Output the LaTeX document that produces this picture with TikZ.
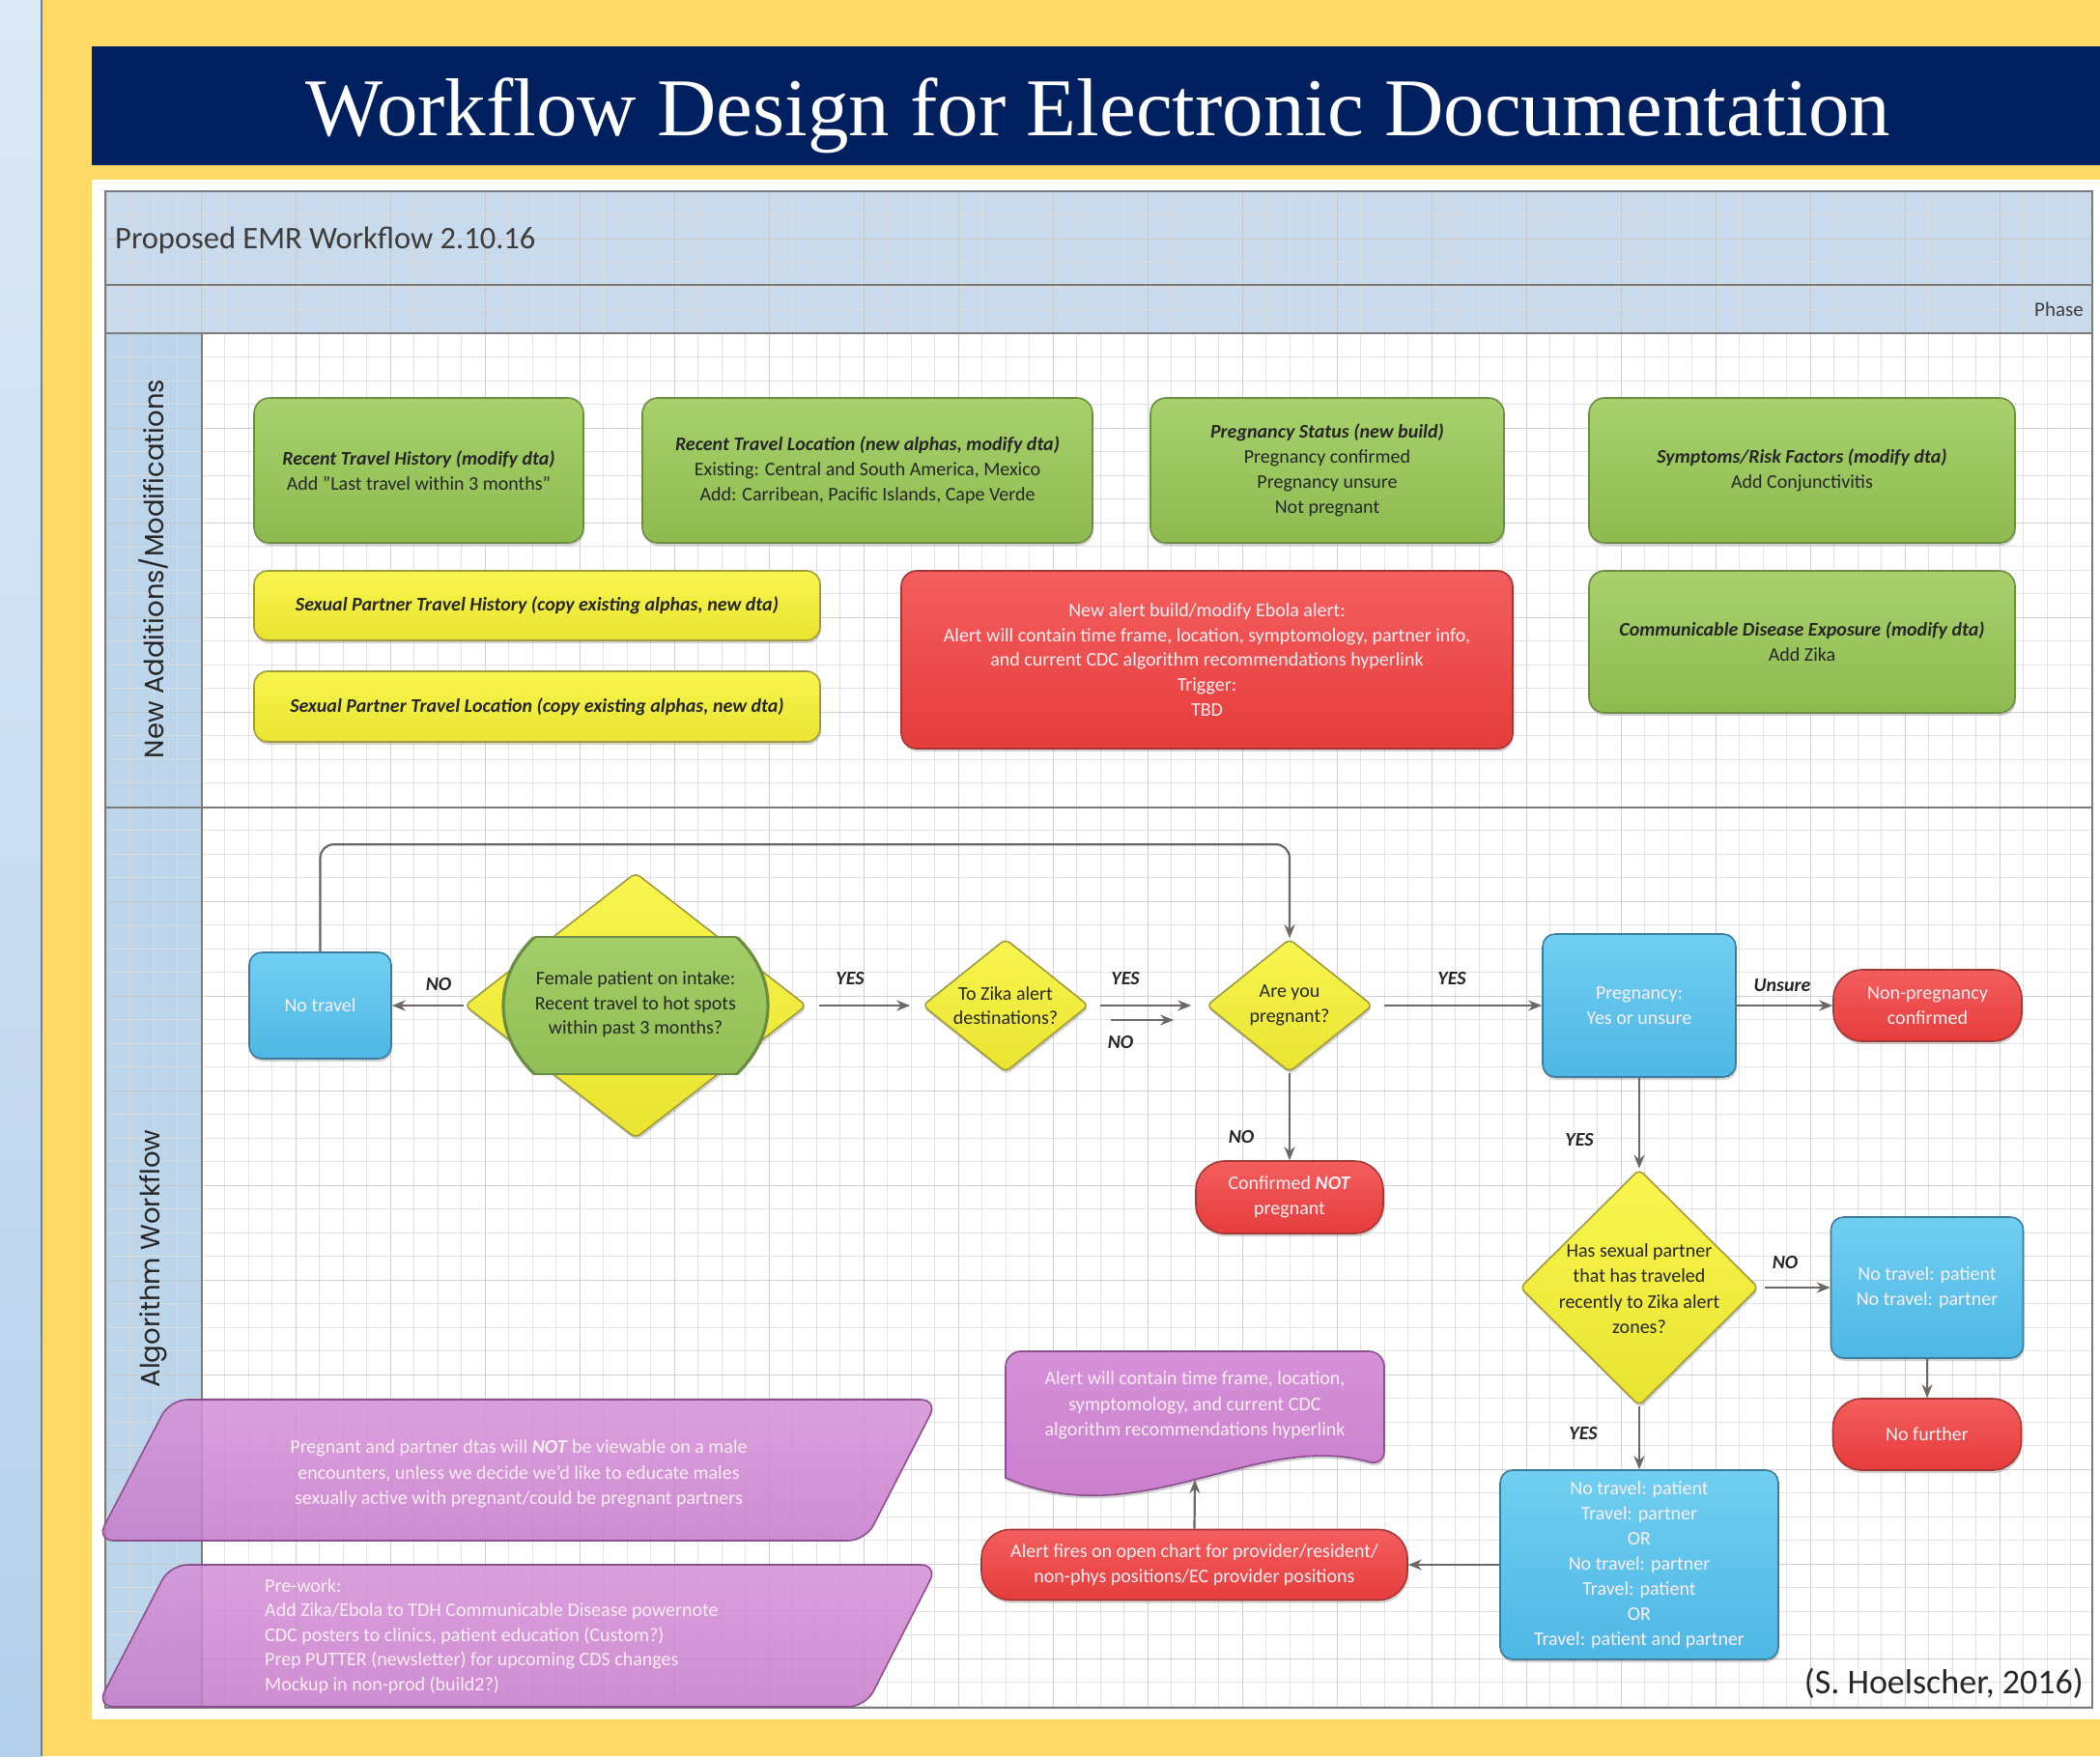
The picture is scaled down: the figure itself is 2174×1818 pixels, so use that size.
\documentclass[tikz,border=0pt]{standalone}
\usepackage{fontspec}
\setmainfont{Carlito}
\newfontfamily\titlefont{Liberation Serif}
\newfontfamily\lanefont{Poppins}
\usetikzlibrary{shapes.geometric,shadows,arrows.meta}

\definecolor{pagegold}{HTML}{FFD966}
\definecolor{navy}{HTML}{002060}
\definecolor{stripA}{HTML}{DDE9F6}
\definecolor{stripB}{HTML}{B5D0EB}
\definecolor{stripline}{HTML}{5B84B8}
\definecolor{bandblue}{HTML}{C8DAEB}
\definecolor{colblue}{HTML}{BDD5EB}
\definecolor{framegray}{HTML}{7A7A7A}
\definecolor{gridminor}{HTML}{DDDDDD}
\definecolor{gridmajor}{HTML}{C6C6C6}
\definecolor{greenA}{HTML}{A8D16C}
\definecolor{greenB}{HTML}{8DBB50}
\definecolor{greenE}{HTML}{6C8C44}
\definecolor{yelA}{HTML}{F8F54E}
\definecolor{yelB}{HTML}{E9E430}
\definecolor{yelE}{HTML}{A09B3C}
\definecolor{redA}{HTML}{F45E5E}
\definecolor{redB}{HTML}{E63C3C}
\definecolor{redE}{HTML}{A63636}
\definecolor{bluA}{HTML}{70CFF1}
\definecolor{bluB}{HTML}{4EB7E5}
\definecolor{bluE}{HTML}{3B7C9C}
\definecolor{purA}{HTML}{D690D8}
\definecolor{purB}{HTML}{C77BCB}
\definecolor{purE}{HTML}{8B4F8E}
\definecolor{ink}{HTML}{262626}
\definecolor{lightink}{HTML}{FBEFF3}
\definecolor{arrowgray}{HTML}{6C6666}

\tikzset{
  shapebase/.style={draw, line width=1.6pt, align=center, inner sep=0pt,
    font=\fontsize{20}{26}\selectfont,
    drop shadow={shadow xshift=1pt, shadow yshift=-3pt, opacity=0.35}},
  greenbox/.style={shapebase, rounded corners=16pt, draw=greenE,
    top color=greenA, bottom color=greenB, text=ink},
  yellowbox/.style={shapebase, rounded corners=14pt, draw=yelE,
    top color=yelA, bottom color=yelB, text=ink},
  redbox/.style={shapebase, rounded corners=16pt, draw=redE,
    top color=redA, bottom color=redB, text=lightink},
  redpill/.style={redbox, rounded corners=30pt},
  bluebox/.style={shapebase, rounded corners=13pt, draw=bluE,
    top color=bluA, bottom color=bluB, text=lightink},
  yeldia/.style={shapebase, shape=diamond, rounded corners=6pt, draw=yelE,
    top color=yelA, bottom color=yelB},
  purplefill/.style={draw=purE, line width=1.6pt, top color=purA, bottom color=purB,
    drop shadow={shadow xshift=1pt, shadow yshift=-3pt, opacity=0.35}},
  purplenote/.style={draw=purE, line width=1.6pt, top color=purA, bottom color=purB,
    fill opacity=0.86},
  dtext/.style={align=center, inner sep=0pt, text=ink, font=\fontsize{20}{25.5}\selectfont},
  ltext/.style={align=center, inner sep=0pt, text=lightink, font=\fontsize{20}{26.5}\selectfont},
  lbl/.style={inner sep=0pt, text=ink, font=\fontsize{20}{20}\selectfont\bfseries\itshape},
  arr/.style={draw=arrowgray, line width=2.2pt, -{Stealth[length=14pt,width=11pt]}},
  framepen/.style={draw=framegray, line width=2.6pt},
  lanelabel/.style={rotate=90, inner sep=0pt, text=ink, font=\lanefont\fontsize{27.5}{27.5}\selectfont}
}

\begin{document}
\begin{tikzpicture}[x=1pt,y=-1pt]
\useasboundingbox (0,0) rectangle (2174,1818);

% page background and side strip
\fill[pagegold] (0,0) rectangle (2174,1818);
\shade[top color=stripA, bottom color=stripB] (0,0) rectangle (43,1818);
\draw[draw=stripline, line width=2pt] (43,0) -- (43,1818);

% title banner
\fill[navy] (95,48) rectangle (2174,171);
\node[anchor=base, inner sep=0pt, text=white, font=\titlefont\fontsize{85}{85}\selectfont]
  (title) at (1137,140) {Workflow Design for Electronic Documentation};

% sheet, header bands and lane label column
\fill[white] (95,186) rectangle (2174,1780);
\fill[bandblue] (109,198) rectangle (2166,345);
\fill[colblue] (109,345) rectangle (209,1768);

% background grid
\foreach \k in {-4,...,79}{
  \pgfmathtruncatemacro\gm{mod(\k+400,4)}
  \ifnum\gm=0 \def\gc{gridmajor}\else\def\gc{gridminor}\fi
  \draw[draw=\gc, line width=1pt, opacity=0.8] ({208+24.5*\k},198) -- ({208+24.5*\k},1768);
}
\foreach \k in {-25,...,38}{
  \pgfmathtruncatemacro\gm{mod(\k+400,4)}
  \ifnum\gm=0 \def\gc{gridmajor}\else\def\gc{gridminor}\fi
  \draw[draw=\gc, line width=1pt, opacity=0.8] (109,{835+24.5*\k}) -- (2166,{835+24.5*\k});
}

% swimlane frame
\draw[framepen] (109,198) rectangle (2166,1768);
\draw[framepen] (109,295) -- (2166,295);
\draw[framepen] (109,345) -- (2166,345);
\draw[framepen] (109,836) -- (2166,836);
\draw[framepen] (209,345) -- (209,1768);

\node[anchor=base west, inner sep=0pt, text=ink!90, font=\fontsize{32.5}{32.5}\selectfont]
  (sheettitle) at (119,257) {Proposed EMR Workflow 2.10.16};
\node[anchor=base east, inner sep=0pt, text=ink!90, font=\fontsize{21}{21}\selectfont]
  (phase) at (2157,327) {Phase};
\node[lanelabel] (laneA) at (159,589) {New Additions/Modifications};
\node[lanelabel] (laneB) at (159,1303) {Algorithm Workflow};

% ---- lane 1: additions and modifications ----
\node[greenbox, minimum width=341pt, minimum height=150pt] (rth) at (433.5,487)
  {\textbf{\textit{Recent Travel History (modify dta)}}\\Add "Last travel within 3 months"};
\node[greenbox, minimum width=466pt, minimum height=150pt] (rtl) at (898,487)
  {\textbf{\textit{Recent Travel Location (new alphas, modify dta)}}\\Existing: Central and South America, Mexico\\Add: Carribean, Pacific Islands, Cape Verde};
\node[greenbox, minimum width=366pt, minimum height=150pt] (pst) at (1374,487)
  {\textbf{\textit{Pregnancy Status (new build)}}\\Pregnancy confirmed\\Pregnancy unsure\\Not pregnant};
\node[greenbox, minimum width=441pt, minimum height=150pt] (srf) at (1865.5,487)
  {\textbf{\textit{Symptoms/Risk Factors (modify dta)}}\\Add Conjunctivitis};
\node[yellowbox, minimum width=586pt, minimum height=72pt] (sph) at (556,627)
  {\textbf{\textit{Sexual Partner Travel History (copy existing alphas, new dta)}}};
\node[yellowbox, minimum width=586pt, minimum height=73pt] (spl) at (556,731.5)
  {\textbf{\textit{Sexual Partner Travel Location (copy existing alphas, new dta)}}};
\node[redbox, minimum width=633pt, minimum height=184pt, font=\fontsize{20}{25.8}\selectfont] (ebola) at (1249.5,683)
  {New alert build/modify Ebola alert:\\Alert will contain time frame, location, symptomology, partner info,\\and current CDC algorithm recommendations hyperlink\\Trigger:\\TBD};
\node[greenbox, minimum width=441pt, minimum height=147pt] (cde) at (1865.5,664.5)
  {\textbf{\textit{Communicable Disease Exposure (modify dta)}}\\Add Zika};

% ---- lane 2: algorithm workflow ----
\node[bluebox, minimum width=147pt, minimum height=110pt] (notravel) at (331.5,1041) {No travel};

\node[yeldia, minimum width=354pt, minimum height=275pt] (q1) at (658,1041) {};
\begin{scope}
  \clip (500,970) rectangle (820,1112);
  \fill[top color=greenA, bottom color=greenB] (658,1041) ellipse [x radius=137, y radius=110];
  \draw[draw=greenE, line width=3.2pt] (658,1041) ellipse [x radius=137, y radius=110];
\end{scope}
\draw[draw=greenE, line width=1.6pt] (553.4,970) -- (762.6,970) (553.4,1112) -- (762.6,1112);
\node[dtext] (q1t) at (658,1040) {Female patient on intake:\\Recent travel to hot spots\\within past 3 months?};

\node[yeldia, minimum width=172pt, minimum height=138pt] (q2) at (1041,1041) {};
\node[dtext] (q2t) at (1041,1041) {To Zika alert\\destinations?};
\node[yeldia, minimum width=172pt, minimum height=138pt] (q3) at (1335,1041) {};
\node[dtext] (q3t) at (1335,1041) {Are you\\pregnant?};

\node[bluebox, minimum width=200pt, minimum height=148pt, font=\fontsize{20}{26}\selectfont] (preg) at (1697,1041) {Pregnancy:\\Yes or unsure};
\node[redpill, minimum width=195pt, minimum height=74pt] (nonpreg) at (1995.5,1041) {Non-pregnancy\\confirmed};
\node[redpill, minimum width=194pt, minimum height=75pt] (notpreg) at (1335,1239.5) {Confirmed \textbf{\textit{NOT}}\\pregnant};

\node[yeldia, minimum width=247pt, minimum height=245pt] (q4) at (1697,1333) {};
\node[dtext, font=\fontsize{20}{26.5}\selectfont] (q4t) at (1697,1334) {Has sexual partner\\that has traveled\\recently to Zika alert\\zones?};

\node[bluebox, minimum width=199pt, minimum height=146pt] (notravel2) at (1995,1333) {No travel: patient\\No travel: partner};
\node[redpill, minimum width=195pt, minimum height=74pt] (nofurther) at (1995,1485) {No further};
\node[bluebox, minimum width=288pt, minimum height=196pt, font=\fontsize{20}{26}\selectfont] (combos) at (1697,1620)
  {No travel: patient\\Travel: partner\\OR\\No travel: partner\\Travel: patient\\OR\\Travel: patient and partner};
\node[redpill, minimum width=441pt, minimum height=73pt] (alertfires) at (1236.5,1620)
  {Alert fires on open chart for provider/resident/\\non-phys positions/EC provider positions};

% document shape for the alert content
\path[purplefill, rounded corners=16pt] (1041,1530) -- (1041,1399) -- (1433,1399) -- (1433,1518)
  [sharp corners] .. controls (1300,1480) and (1180,1590) .. (1041,1530) -- cycle;
\node[ltext] (doc) at (1237,1455) {Alert will contain time frame, location,\\symptomology, and current CDC\\algorithm recommendations hyperlink};
\coordinate (docbot) at (1237,1532);

% notes (slightly translucent, the lane lines show through)
\path[purplenote, rounded corners=18pt] (176,1449) -- (971,1449) -- (896,1595) -- (100,1595) -- cycle;
\node[ltext] (noteA) at (537,1526) {Pregnant and partner dtas will \textbf{\textit{NOT}} be viewable on a male\\encounters, unless we decide we'd like to educate males\\sexually active with pregnant/could be pregnant partners};
\path[purplenote, rounded corners=18pt] (176,1620) -- (971,1620) -- (896,1767) -- (100,1767) -- cycle;
\node[ltext, align=left, anchor=west, font=\fontsize{20}{25.5}\selectfont] (noteB) at (274,1694) {Pre-work:\\Add Zika/Ebola to TDH Communicable Disease powernote\\CDC posters to clinics, patient education (Custom?)\\Prep PUTTER (newsletter) for upcoming CDS changes\\Mockup in non-prod (build2?)};

% ---- connectors ----
\draw[arr] (q1.west) -- (notravel.east);
\draw[arr, shorten <=12pt, shorten >=12pt] (q1.east) -- (q2.west);
\draw[arr] ([xshift=11pt]q2.east) -- ([xshift=-15pt]q3.west);
\draw[arr] ([xshift=22pt,yshift=-15pt]q2.east) -- ([xshift=-33pt,yshift=-15pt]q3.west);
\draw[arr, shorten <=11pt] (q3.east) -- (preg.west);
\draw[arr] (preg.east) -- (nonpreg.west);
\draw[arr] (q3.south) -- (notpreg.north);
\draw[arr] (preg.south) -- (q4.north);
\draw[arr, shorten <=6pt] (q4.east) -- (notravel2.west);
\draw[arr] (notravel2.south) -- (nofurther.north);
\draw[arr] (q4.south) -- (combos.north);
\draw[arr] (combos.west) -- (alertfires.east);
\draw[arr] (alertfires.north) -- (docbot);
\draw[arr, rounded corners=14pt] (notravel.north) -- ++(0,-111) -| (q3.north);

% ---- connector labels ----
\node[lbl] (lno1) at (454,1019) {NO};
\node[lbl] (lyes1) at (880,1013) {YES};
\node[lbl] (lyes2) at (1165,1013) {YES};
\node[lbl] (lno2) at (1160,1079) {NO};
\node[lbl] (lyes3) at (1503,1013) {YES};
\node[lbl] (lunsure) at (1845,1020) {Unsure};
\node[lbl] (lno3) at (1285,1177) {NO};
\node[lbl] (lyes4) at (1635,1180) {YES};
\node[lbl] (lno4) at (1848,1307) {NO};
\node[lbl] (lyes5) at (1639,1484) {YES};

\node[anchor=base east, inner sep=0pt, text=ink, font=\fontsize{36}{36}\selectfont]
  (credit) at (2157,1753) {(S. Hoelscher, 2016)};
\end{tikzpicture}
\end{document}
